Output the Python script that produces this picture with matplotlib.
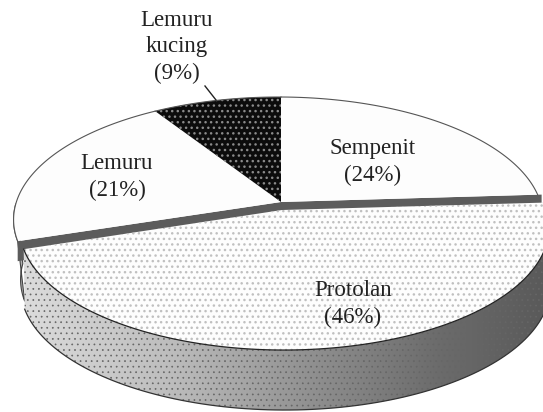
import numpy as np
import matplotlib
matplotlib.use("Agg")
import matplotlib.pyplot as plt
from matplotlib.colors import LinearSegmentedColormap
from matplotlib.patches import Polygon

names = ["Sempenit", "Protolan", "Lemuru", "Lemuru\nkucing"]
shares = [24, 46, 21, 9]

plt.rcParams["font.family"] = "Liberation Serif"
plt.rcParams["hatch.linewidth"] = 1.0

# turn the shares into start / end angles, clockwise from the top
ends = np.cumsum(shares) / np.sum(shares) * 2 * np.pi
starts = np.r_[0, ends[:-1]]


# the pie is tilted: a circle seen in perspective
def rim(t, cx=281, cy=202):
    d = 1 + 0.143 * np.cos(t) + 0.01 * np.sin(t)
    return np.c_[cx + 262 * np.sin(t) / d, cy - 120 * np.cos(t) / d]


def arc(a, b, **kw):
    return rim(np.linspace(a, b, 120), **kw)


fig = plt.figure(figsize=(5.43, 4.12), dpi=100)
ax = fig.add_axes([0, 0, 1, 1])
ax.set_xlim(0, 543)
ax.set_ylim(412, 0)
ax.set_axis_off()

# wall of the Lemuru slice, just visible on the left
a, b = ends[1], ends[1] + 0.3
left_wall = np.r_[arc(a, b), arc(b, a, cx=288, cy=262)]
ax.add_patch(Polygon(left_wall, fc="#b0b0b0", ec="#444444", lw=0.8, zorder=1))

# dark cut face under the upper slices
apex = np.array([281, 202])
p_left = rim(ends[1])
p_right = rim(ends[0]) + [4, 0]
cut = np.r_[p_left, [apex], p_right, p_right + [0, 20], [apex + [0, 20]], p_left + [0, 20]]
ax.add_patch(Polygon(cut, fc="#5c5c5c", ec="none", zorder=2))

# upper slices
for i, fc, hc in [(0, "#fdfdfd", None), (2, "#fdfdfd", None), (3, "#0c0c0c", "#8a8a8a")]:
    pts = np.r_[[apex], arc(starts[i], ends[i])]
    ax.add_patch(Polygon(pts, fc=fc, ec="none", zorder=3))
    if hc:
        ax.add_patch(Polygon(pts, fc="none", ec=hc, lw=0, hatch="...", zorder=4))
    ax.plot(*arc(starts[i], ends[i]).T, color="#555555", lw=0.8, zorder=5)

# Protolan is pulled out of the pie
front_top = arc(starts[1], ends[1], cx=287, cy=210)
front_bottom = arc(starts[1], ends[1], cx=288, cy=270)
wall = Polygon(np.r_[front_top, front_bottom[::-1]], fc="none", ec="none", zorder=6)
ax.add_patch(wall)

shade = LinearSegmentedColormap.from_list(
    "shade", [(0, "#dedede"), (0.3, "#bcbcbc"), (0.55, "#929292"), (0.8, "#6c6c6c"), (1, "#5a5a5a")]
)
img = ax.imshow(np.linspace(0, 1, 256)[None, :], cmap=shade, extent=(15, 543, 412, 200),
                aspect="auto", zorder=6)
img.set_clip_path(wall)
ax.set_xlim(0, 543)
ax.set_ylim(412, 0)
plt.rcParams["hatch.linewidth"] = 0.5
ax.add_patch(Polygon(np.r_[front_top, front_bottom[::-1]], fc="none", ec="#666666", lw=0, hatch="...", zorder=7))
ax.plot(*front_bottom.T, color="#333333", lw=0.9, zorder=8)

plt.rcParams["hatch.linewidth"] = 1.0
top = np.r_[[[282, 210]], front_top]
ax.add_patch(Polygon(top, fc="#fdfdfd", ec="none", zorder=9))
ax.add_patch(Polygon(top, fc="none", ec="#c0c0c0", lw=0, hatch="...", zorder=10))
ax.plot(*front_top.T, color="#222222", lw=0.9, zorder=11)

# labels
label_at = [(373, 162), (353, 304), (117, 177), (177, 47)]
for name, share, (x, y) in zip(names, shares, label_at):
    ax.text(x, y, f"{name}\n({share}%)", ha="center", va="center", fontsize=16.5,
            color="#222222", linespacing=1.35, zorder=12)
ax.plot([205, 216], [86, 100], color="#222222", lw=1.0, zorder=12)

fig.savefig("out.png", dpi=100)
